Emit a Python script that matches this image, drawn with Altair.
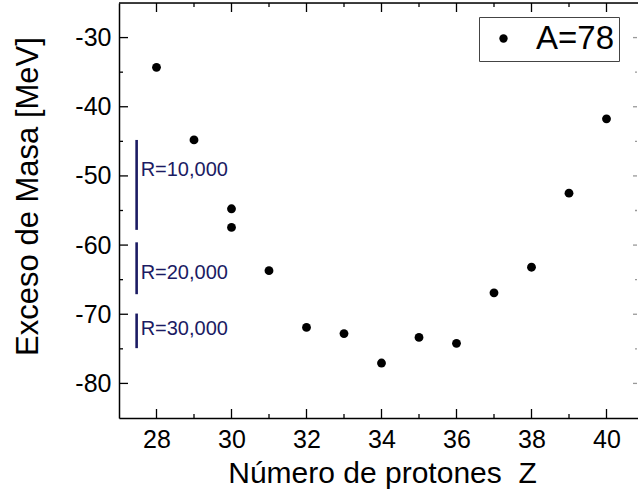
import altair as alt
import pandas as pd

# Mass excess for the A=78 isobars
z_values = [28, 29, 30, 30, 31, 32, 33, 34, 35, 36, 37, 38, 39, 40]
mass_excess = [-34.3, -44.8, -54.75, -57.45, -63.7, -71.9, -72.8, -77.05,
               -73.35, -74.2, -66.9, -63.2, -52.5, -41.75]
series_name = "A=78"

# Resolving-power bars drawn beside the left axis
res_labels = ["R=10,000", "R=20,000", "R=30,000"]
res_top = [-44.8, -59.6, -69.9]
res_bottom = [-57.8, -67.1, -74.9]
res_label_y = [-49.2, -64.0, -72.2]
res_z = 27.47

# Tick positions
x_major = [28, 30, 32, 34, 36, 38, 40]
x_minor = [29, 31, 33, 35, 37, 39]
y_major = [-80, -70, -60, -50, -40, -30]
y_minor = [-75, -65, -55, -45, -35]

W, H = 519, 415
FONT = "Liberation Sans"
NAVY = "#1b1b63"

xs = alt.Scale(domain=[27, 40.84], nice=False, zero=False)
ys = alt.Scale(domain=[-85, -25], nice=False, zero=False)

pts = pd.DataFrame({"Z": z_values, "M": mass_excess, "s": series_name})
res = pd.DataFrame({"lab": res_labels, "top": res_top, "bot": res_bottom,
                    "ly": res_label_y, "z": [res_z] * 3})

points = alt.Chart(pts).mark_circle(size=78, opacity=1).encode(
    x=alt.X("Z:Q", scale=xs, axis=alt.Axis(
        title="Número de protones\u00a0 Z", values=x_major, ticks=False, tickSize=0,
        labelExpr="'' + datum.value",
        labelPadding=9, labelFontSize=25, labelFont=FONT, labelColor="black",
        titleFontSize=30, titleFont=FONT, titleFontWeight="normal", titleColor="black",
        titleX=263, titleY=55, titleBaseline="middle", titleAlign="center",
        domainColor="black", domainWidth=1.5, grid=False)),
    y=alt.Y("M:Q", scale=ys, axis=alt.Axis(
        title="Exceso de Masa [MeV]", values=y_major, ticks=False, tickSize=0,
        labelExpr="'' + datum.value",
        labelPadding=8, labelFontSize=25, labelFont=FONT, labelColor="black",
        titleFontSize=31, titleFont=FONT, titleFontWeight="normal", titleColor="black",
        titleX=-91, titleY=193, titleAngle=-90, titleBaseline="middle", titleAlign="center",
        domainColor="black", domainWidth=1.5, grid=False)),
    color=alt.Color("s:N", scale=alt.Scale(range=["black"]), legend=alt.Legend(
        title=None, orient="none", legendX=360, legendY=14,
        strokeColor="#444", fillColor="white", padding=5,
        symbolType="circle", symbolSize=70, symbolOffset=3, symbolStrokeWidth=0,
        labelFontSize=33, labelFont=FONT, labelColor="black", labelOffset=16)),
)

res_bars = alt.Chart(res).mark_rule(color=NAVY, strokeWidth=2.6).encode(
    x="z:Q", y="top:Q", y2="bot:Q")
res_text = alt.Chart(res).mark_text(
    color=NAVY, align="left", baseline="middle", dx=4, fontSize=20, font=FONT
).encode(x="z:Q", y="ly:Q", text="lab:N")

def xticks(vals, y0, y1):
    return alt.Chart(pd.DataFrame({"v": vals})).mark_rule(
        color="black", strokeWidth=1.3).encode(
        x="v:Q", y=alt.value(y0), y2=alt.value(y1))

def yticks(vals, x0, x1, color="black"):
    return alt.Chart(pd.DataFrame({"v": vals})).mark_rule(
        color=color, strokeWidth=1.3).encode(
        y="v:Q", x=alt.value(x0), x2=alt.value(x1))

top_axis = alt.Chart(pd.DataFrame({"v": [27, 40.84]})).mark_line(
    color="black", strokeWidth=1.5).encode(x="v:Q", y=alt.value(0))

chart = alt.layer(
    top_axis,
    xticks(x_major, H, H - 9), xticks(x_minor, H, H - 4),
    xticks(x_major, 0, 9), xticks(x_minor, 0, 4),
    yticks(y_major, 0, 9), yticks(y_minor, 0, 4),
    yticks(y_major, W - 1, W - 5, "#999"), yticks(y_minor, W - 1, W - 3, "#999"),
    res_bars, res_text, points,
).properties(
    width=W, height=H,
    padding={"left": 119, "top": 3, "right": 0, "bottom": 78},
    autosize=alt.AutoSizeParams(type="none"),
).configure_view(stroke=None).configure(background="white")

chart.save("out.html", embed_options={"renderer": "svg", "actions": False})
